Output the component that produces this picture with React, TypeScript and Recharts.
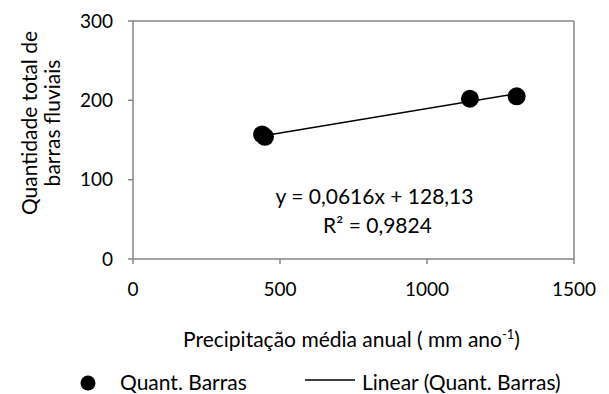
import React from 'react';
import { ComposedChart, Scatter, XAxis, YAxis, ReferenceLine, Label } from 'recharts';

const precipitation = [439, 449, 1146, 1305];
const quantBarras = [157, 154, 202, 205];
const slope = 0.0616;
const intercept = 128.13;
const xTicks = [0, 500, 1000, 1500];
const yTicks = [0, 100, 200, 300];
const equationText = 'y = 0,0616x + 128,13';
const r2Text = 'R² = 0,9824';
const seriesName = 'Quant. Barras';
const trendName = 'Linear (Quant. Barras)';

const points = precipitation.map((x, i) => ({ x, y: quantBarras[i] }));
const xMin = Math.min(...precipitation);
const xMax = Math.max(...precipitation);
const trend = [
  { x: xMin, y: slope * xMin + intercept },
  { x: xMax, y: slope * xMax + intercept },
];

const FONT = 'Lato, "Open Sans", sans-serif';
const GRAY = '#868686';
const TXT = 21;

const YTitle = (props: any) => {
  const vb = props.viewBox || {};
  const cy = vb.y + vb.height / 2 - 17;
  return (
    <g>
      <text x={0} y={0} transform={`translate(37, ${cy}) rotate(-90)`} textAnchor="middle" fontFamily={FONT} fontSize={TXT} fill="#000">Quantidade total de</text>
      <text x={0} y={0} transform={`translate(60, ${cy}) rotate(-90)`} textAnchor="middle" fontFamily={FONT} fontSize={TXT} fill="#000">barras fluviais</text>
    </g>
  );
};

const XTitle = (props: any) => {
  const vb = props.viewBox || {};
  const cx = vb.x + vb.width / 2;
  return (
    <g>
      <text x={cx - 2} y={347} textAnchor="middle" fontFamily={FONT} fontSize={TXT} fill="#000">
        Precipitação média anual ( mm ano<tspan dy={-8} fontSize={13}>-1</tspan><tspan dy={8}>)</tspan>
      </text>
      <circle cx={88} cy={383} r={7.5} fill="#000" />
      <text x={120} y={390} fontFamily={FONT} fontSize={TXT} fill="#000">{seriesName}</text>
      <line x1={305} x2={355} y1={380} y2={380} stroke="#000" strokeWidth={1.5} />
      <text x={362} y={390} fontFamily={FONT} fontSize={TXT} fill="#000">{trendName}</text>
      <text x={cx + 21} y={204} textAnchor="middle" fontFamily={FONT} fontSize={TXT} fill="#000">{equationText}</text>
      <text x={cx + 24} y={233} textAnchor="middle" fontFamily={FONT} fontSize={TXT} fill="#000">{r2Text}</text>
    </g>
  );
};

export default function App() {
  return (
    <div style={{ position: 'absolute', left: 0, top: 0, background: '#fff' }}>
      <ComposedChart width={609} height={394} margin={{ top: 21, right: 35, left: 0, bottom: 105 }}>
        <XAxis
          type="number"
          dataKey="x"
          domain={[0, 1500]}
          ticks={xTicks}
          interval={0}
          height={30}
          tickSize={5}
          tickMargin={19}
          axisLine={{ stroke: GRAY, strokeWidth: 1.5 }}
          tickLine={{ stroke: GRAY, strokeWidth: 1.5 }}
          tick={{ fill: '#000', fontSize: 19, fontFamily: FONT }}
        >
          <Label content={<XTitle />} />
        </XAxis>
        <YAxis
          type="number"
          dataKey="y"
          domain={[0, 300]}
          ticks={yTicks}
          interval={0}
          width={133}
          tickSize={5}
          tickMargin={15}
          axisLine={{ stroke: GRAY, strokeWidth: 1.5 }}
          tickLine={{ stroke: GRAY, strokeWidth: 1.5 }}
          tick={{ fill: '#000', fontSize: 19, fontFamily: FONT }}
        >
          <Label content={<YTitle />} />
        </YAxis>
        <ReferenceLine y={300} stroke={GRAY} strokeWidth={1.5} />
        <ReferenceLine x={1500} stroke={GRAY} strokeWidth={1.5} />
        <Scatter
          data={trend}
          line={{ stroke: '#000', strokeWidth: 1.5 }}
          shape={() => null}
          isAnimationActive={false}
        />
        <Scatter
          data={points}
          fill="#000"
          shape={(p: any) => <circle cx={p.cx} cy={p.cy} r={9} fill="#000" />}
          isAnimationActive={false}
        />
      </ComposedChart>
    </div>
  );
}
